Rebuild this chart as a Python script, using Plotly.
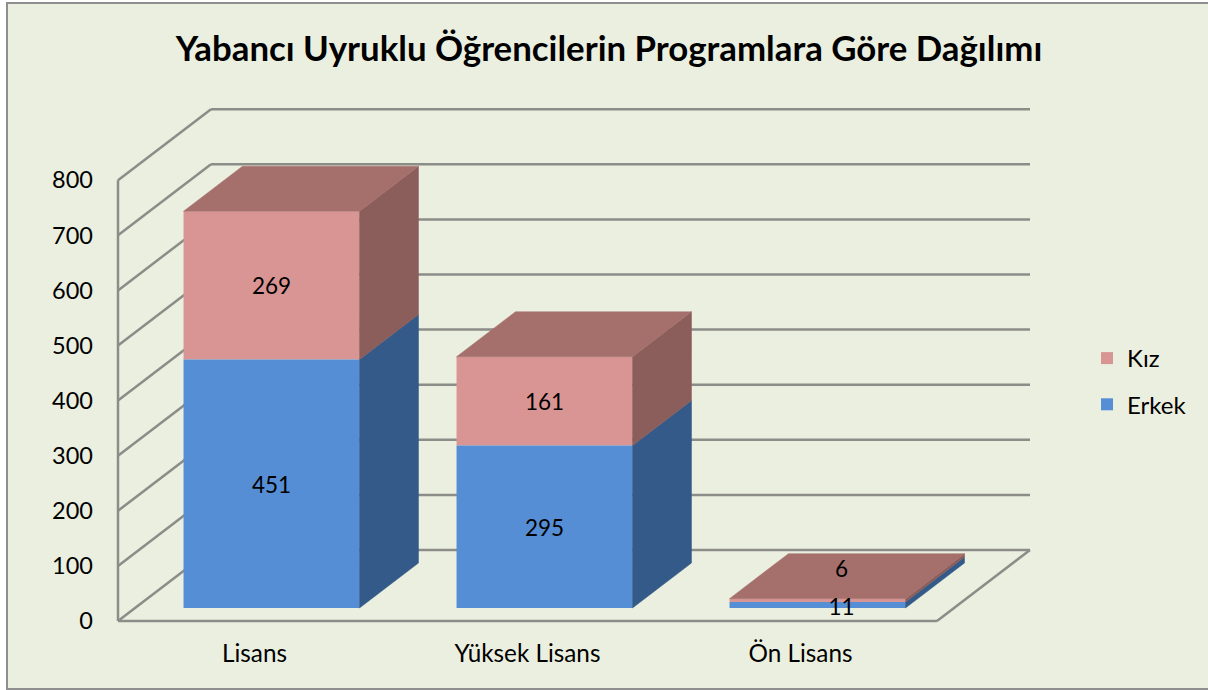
import plotly.graph_objects as go

title = "Yabancı Uyruklu Öğrencilerin Programlara Göre Dağılımı"
categories = ["Lisans", "Yüksek Lisans", "Ön Lisans"]
erkek = [451, 295, 11]
kiz = [269, 161, 6]
y_ticks = [0, 100, 200, 300, 400, 500, 600, 700, 800]
# label nudges, the last column's labels were moved by hand in the original
label_dx = [0, 0, 0.088]            # category units
kiz_label_shift = [6, 6, 64]        # value units
erkek_label_shift = [6, 6, 8]       # value units

W, H = 1208, 690
# plot window in pixels
PL, PR, PT, PB = 100, 1040, 100, 630
# scale: pixel of origin, px per category, px per value
X0, XS, Y0, YS = 254.5, 273.0, 621.0, 0.551
DEPTH_X = 93 / XS          # wall depth in category units
DEPTH_Y = 71 / YS          # wall depth in value units
D0, D1 = 13 / 71, 58 / 71  # bar's front and back depth
BAR_W = 176 / XS

C_E, C_E_SIDE = "#558ED5", "#335A88"
C_K, C_K_SIDE, C_K_TOP = "#D99594", "#8B5D5B", "#A5706C"
GRID = "#8C8C88"
BG = "#EBEFDF"


def proj(x, y, d):
    return x + d * DEPTH_X, y + d * DEPTH_Y


def poly(points, color):
    xs, ys = zip(*[proj(*p) for p in points])
    return go.Scatter(x=list(xs) + [xs[0]], y=list(ys) + [ys[0]], mode="lines", fill="toself",
                      fillcolor=color, line=dict(color=color, width=0.5), hoverinfo="skip", showlegend=False)


fig = go.Figure()
idx = list(range(len(categories)))
bar_x = [i + D0 * DEPTH_X for i in idx]
floor = D0 * DEPTH_Y
fig.add_trace(go.Bar(name="Kız", x=bar_x, y=kiz, base=[floor + e for e in erkek], width=BAR_W,
                     marker=dict(color=C_K, line=dict(width=0)), legendgroup="k"))
fig.add_trace(go.Bar(name="Erkek", x=bar_x, y=erkek, base=[floor] * 3, width=BAR_W,
                     marker=dict(color=C_E, line=dict(width=0)), legendgroup="e"))

for i, e, k in zip(idx, erkek, kiz):
    xl, xr = i - BAR_W / 2, i + BAR_W / 2
    fig.add_trace(poly([(xr, 0, D0), (xr, e, D0), (xr, e, D1), (xr, 0, D1)], C_E_SIDE))
    fig.add_trace(poly([(xr, e, D0), (xr, e + k, D0), (xr, e + k, D1), (xr, e, D1)], C_K_SIDE))
    fig.add_trace(poly([(xl, e + k, D0), (xr, e + k, D0), (xr, e + k, D1), (xl, e + k, D1)], C_K_TOP))

fig.add_trace(go.Scatter(
    x=[b + dx for b, dx in zip(bar_x, label_dx)] * 2,
    y=[floor + e / 2 - s + 0 for e, s in zip(erkek, erkek_label_shift)]
      + [floor + e + k / 2 + (s - 12 if s > 12 else -s) for e, k, s in zip(erkek, kiz, kiz_label_shift)],
    text=[str(v) for v in erkek + kiz], mode="text", textposition="middle center",
    textfont=dict(size=22.5, color="black"), hoverinfo="skip", showlegend=False))

# walls, in value / category coordinates
left, right = -0.5, 2.5
shapes = []


def seg(a, b):
    shapes.append(dict(type="line", xref="x", yref="y", layer="below",
                       x0=a[0], y0=a[1], x1=b[0], y1=b[1], line=dict(color=GRID, width=2.5)))


for v in y_ticks:
    seg(proj(left, v, 0), proj(left, v, 1))
    seg(proj(left, v, 1), proj(right, v, 1))
seg(proj(left, 0, 0), proj(left, y_ticks[-1], 0))
seg(proj(left, 0, 0), proj(right, 0, 0))
seg(proj(right, 0, 0), proj(right, 0, 1))

# chart frame, from pixels to paper fractions
pw, ph = PR - PL, PB - PT
shapes.append(dict(type="rect", xref="paper", yref="paper", layer="below",
                   x0=(7 - PL) / pw, x1=(1212 - PL) / pw,
                   y0=(PB - 689) / ph, y1=(PB - 3) / ph,
                   fillcolor=BG, line=dict(color="#8F8F8F", width=2)))

fig.update_layout(
    width=W, height=H, margin=dict(l=PL, r=W - PR, t=PT, b=H - PB, autoexpand=False),
    paper_bgcolor="white", plot_bgcolor="rgba(0,0,0,0)",
    font=dict(family="Lato, Carlito, sans-serif", color="black", size=23),
    barmode="overlay", shapes=shapes, hovermode=False,
    title=dict(text=f"<b>{title}</b>", x=609 / W, xanchor="center", y=1 - 49 / H, yanchor="middle",
               font=dict(size=34.8, color="black")),
    xaxis=dict(range=[(PL - X0) / XS, (PR - X0) / XS], tickvals=idx, ticktext=categories,
               showgrid=False, zeroline=False, showline=False, ticks="", ticklabelstandoff=7,
               tickfont=dict(size=24.3)),
    yaxis=dict(range=[(Y0 - PB) / YS, (Y0 - PT) / YS], tickvals=y_ticks,
               showgrid=False, zeroline=False, showline=False, ticks="", ticklabelstandoff=6,
               tickfont=dict(size=23.5)),
    legend=dict(x=(1087 - PL) / pw, y=(PB - 336) / ph, xanchor="left", yanchor="top",
                bgcolor="rgba(0,0,0,0)", font=dict(size=24), tracegroupgap=12, traceorder="grouped"),
)
fig.write_html("out.html", config=dict(displayModeBar=False),
               post_script="document.body.style.margin='0';document.documentElement.style.overflow='hidden';")
